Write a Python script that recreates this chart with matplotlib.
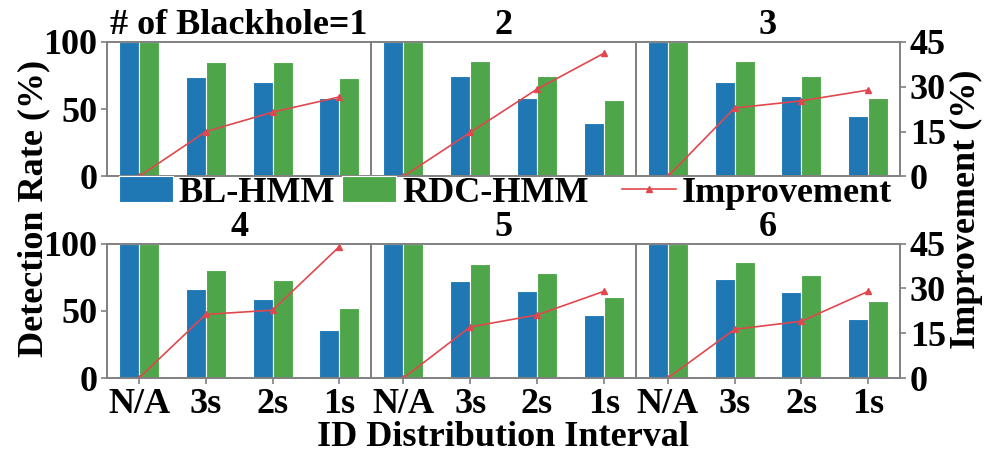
import numpy as np
import matplotlib
matplotlib.use("Agg")
import matplotlib.pyplot as plt
from matplotlib import rcParams

config = {
    "font.family": ['Liberation Serif', 'DejaVu Serif'],
    "font.weight": 'bold',
    "font.size": 26,
    "axes.labelweight": 'bold',
    "axes.titleweight": 'bold',
}
rcParams.update(config)

# 数据
intervals = ['N/A', '3s', '2s', '1s']
titles = ['# of Blackhole=1', '2', '3', '4', '5', '6']
bl_hmm = [
    [100, 74, 70, 58],
    [100, 75, 58, 40],
    [100, 70, 60, 45],
    [100, 66, 59, 36],
    [100, 72, 65, 47],
    [100, 74, 64, 44],
]
rdc_hmm = [
    [100, 85, 85, 73],
    [100, 86, 75, 57],
    [100, 86, 75, 58],
    [100, 80, 73, 52],
    [100, 85, 78, 60],
    [100, 86, 77, 57],
]
improvement = [
    [0, 15.0, 21.5, 26.6],
    [0, 14.7, 29.2, 41.2],
    [0, 22.9, 25.3, 28.9],
    [0, 21.3, 22.7, 44.0],
    [0, 17.1, 21.1, 29.0],
    [0, 16.3, 19.0, 29.0],
]

c_blue = '#1f77b4'
c_green = '#4fa64a'
c_red = '#e0484d'
c_spine = '#808080'

fig, axes = plt.subplots(2, 3, figsize=(9.86, 4.54), dpi=100)
fig.subplots_adjust(left=0.1085, right=0.913, top=0.9075, bottom=0.1674,
                    wspace=0, hspace=0.5)

x = np.arange(len(intervals))
w = 0.3
for i, ax in enumerate(axes.flat):
    row, col = divmod(i, 3)
    b1 = ax.bar(x - w / 2, bl_hmm[i], w, color=c_blue, edgecolor='white', linewidth=0.8, label='BL-HMM')
    b2 = ax.bar(x + w / 2, rdc_hmm[i], w, color=c_green, edgecolor='white', linewidth=0.8, label='RDC-HMM')
    ax.set_ylim(0, 100)
    ax.set_yticks([0, 50, 100])
    ax.set_title(titles[i], fontsize=26, pad=2)
    ax2 = ax.twinx()
    l1, = ax2.plot(x, improvement[i], color=c_red, linewidth=1.2, marker='^',
                   markersize=5, label='Improvement')
    ax2.set_ylim(0, 45)
    ax2.set_yticks([0, 15, 30, 45])
    for a in (ax, ax2):
        for s in a.spines.values():
            s.set_color(c_spine)
            s.set_linewidth(1.2)
        a.tick_params(color=c_spine, width=1.2, length=4, pad=3)
    if col != 0:
        ax.tick_params(axis='y', left=False, labelleft=False)
    if col != 2:
        ax2.tick_params(axis='y', right=False, labelright=False)
    ax.set_xticks(x)
    if row == 0:
        ax.tick_params(axis='x', bottom=False, labelbottom=False)
    else:
        ax.set_xticklabels(intervals)
        ax.tick_params(axis='x', length=4, pad=3)

# 图例：柱状图在左，折线在右
leg1 = fig.legend([b1, b2], ['BL-HMM', 'RDC-HMM'], loc='center left',
                  bbox_to_anchor=(119 / 986, 0.575), ncol=2, frameon=False, fontsize=26,
                  handlelength=1.5, handletextpad=0.15, columnspacing=0.2,
                  borderpad=0, borderaxespad=0)
leg2 = fig.legend([l1], ['Improvement'], loc='center right',
                  bbox_to_anchor=(892 / 986, 0.575), frameon=False, fontsize=26,
                  handlelength=1.5, handletextpad=0.15,
                  borderpad=0, borderaxespad=0)

fig.text(0.034, 0.54, 'Detection Rate (%)', rotation=90, ha='center', va='center',
         fontsize=26, fontweight='bold')
fig.text(0.98, 0.54, 'Improvement (%)', rotation=90, ha='center', va='center',
         fontsize=26, fontweight='bold')
fig.text(0.51, 0.037, 'ID Distribution Interval', ha='center', va='center',
         fontsize=26, fontweight='bold')

plt.savefig('out.png', dpi=100)
